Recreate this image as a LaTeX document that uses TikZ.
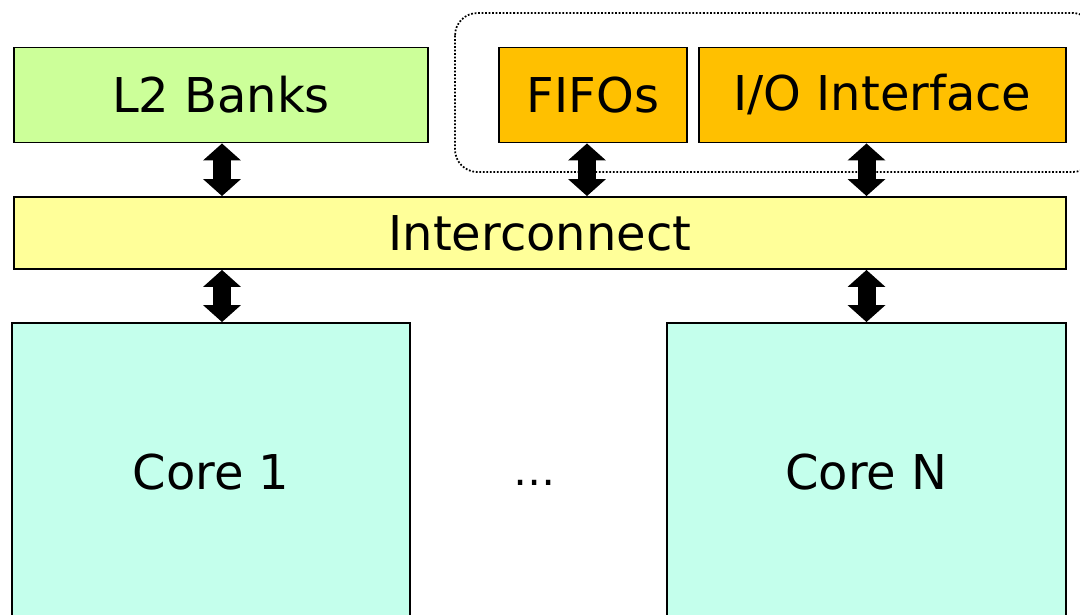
\documentclass[tikz,border=0pt]{standalone}
\usepackage{fontspec}
\setmainfont{DejaVu Sans}
\usetikzlibrary{arrows.meta}
\definecolor{bankgreen}{HTML}{CCFF99}
\definecolor{ioorange}{HTML}{FFC000}
\definecolor{netyellow}{HTML}{FFFF99}
\definecolor{corecyan}{HTML}{C4FFEC}

\begin{document}
\begin{tikzpicture}[x=0.02cm, y=-0.02cm,
    box/.style={draw, line width=1.1pt, inner sep=0pt, font=\fontsize{27.3}{32}\selectfont},
    dbl/.style={line width=0.36cm, {Triangle[width=0.74cm, length=0.34cm]}-{Triangle[width=0.74cm, length=0.34cm]}}]
  \useasboundingbox (0,0) rectangle (1080,615);
  \draw[densely dotted, line width=1pt, rounded corners=0.45cm] (455,13) rectangle (1095,172);
  \node[box, fill=bankgreen, minimum width=8.28cm, minimum height=1.9cm] (l2) at (221,95) {L2 Banks};
  \node[box, fill=ioorange, minimum width=3.76cm, minimum height=1.9cm] (fifo) at (593,95) {FIFOs};
  \node[box, fill=ioorange, minimum width=7.34cm, minimum height=1.9cm] (io) at (882.5,95) {I/O Interface};
  \node[box, fill=netyellow, minimum width=21.04cm, minimum height=1.44cm] (ic) at (540,233) {Interconnect};
  \node[box, fill=corecyan, minimum width=7.96cm, minimum height=5.96cm] (c1) at (211,472) {Core 1};
  \node[box, fill=corecyan, minimum width=7.98cm, minimum height=5.96cm] (cn) at (866.5,472) {Core N};
  \node[font=\fontsize{24}{28}\selectfont] (dots) at (535,483) {…};
  \draw[dbl] (l2.south -| 222,0) -- (ic.north -| 222,0);
  \draw[dbl] (fifo.south -| 587,0) -- (ic.north -| 587,0);
  \draw[dbl] (io.south -| cn.north) -- (ic.north -| cn.north);
  \draw[dbl] (ic.south -| 222,0) -- (c1.north -| 222,0);
  \draw[dbl] (ic.south -| cn.north) -- (cn.north);
\end{tikzpicture}
\end{document}
